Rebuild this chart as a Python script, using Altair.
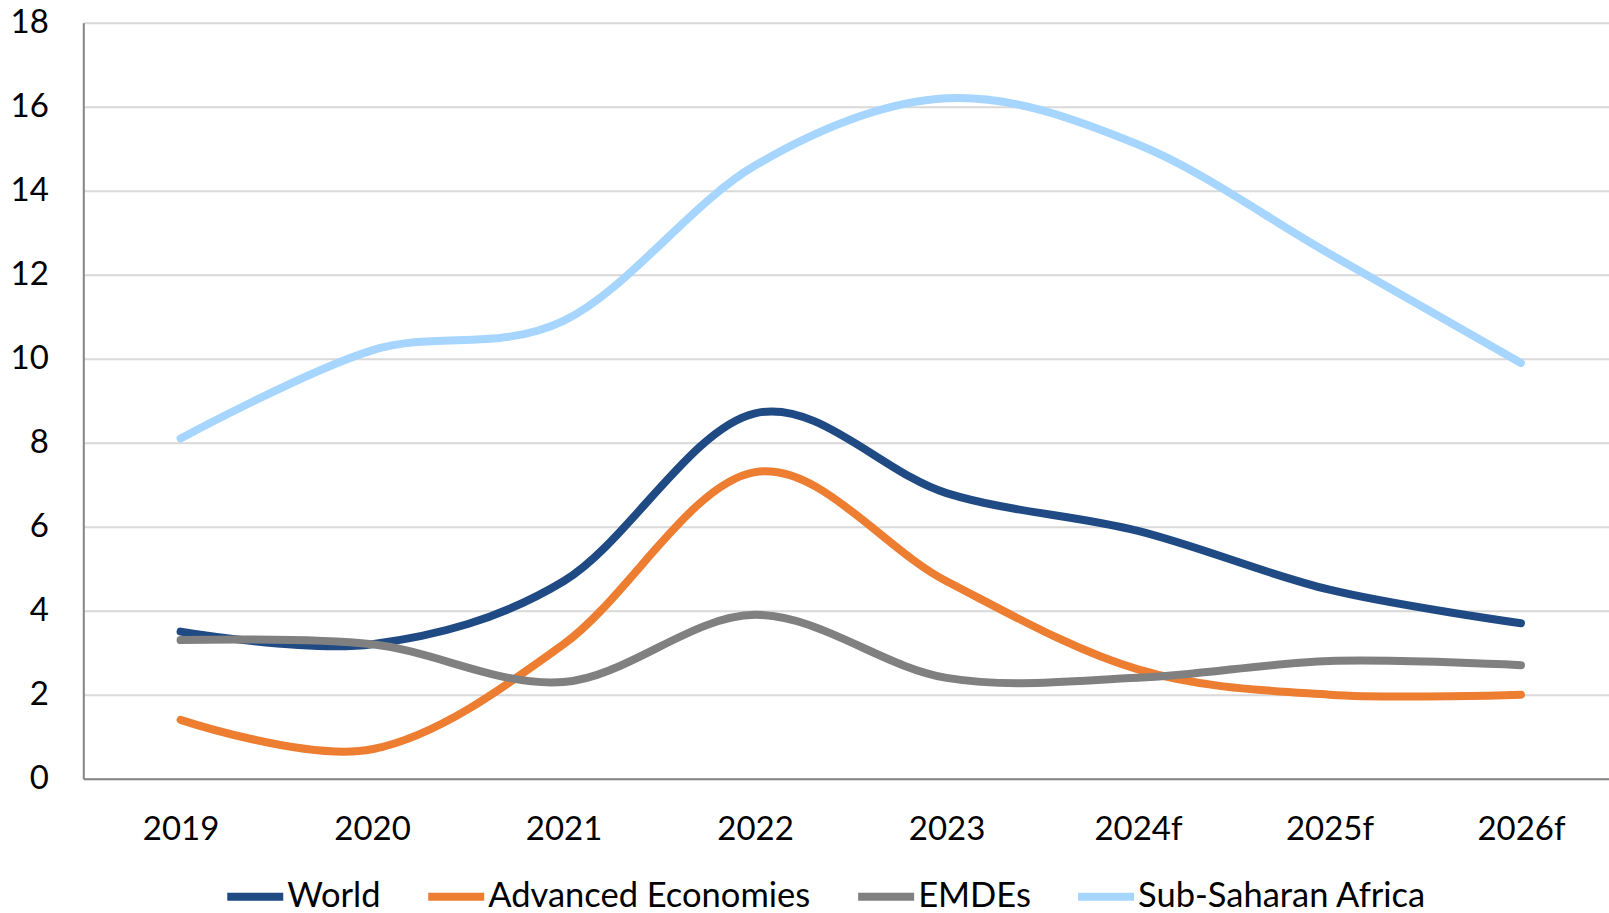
import altair as alt
import pandas as pd

# Inflation, percent
years = ["2019", "2020", "2021", "2022", "2023", "2024f", "2025f", "2026f"]
world = [3.5, 3.2, 4.7, 8.7, 6.8, 5.9, 4.5, 3.7]
advanced = [1.4, 0.7, 3.2, 7.3, 4.7, 2.6, 2.0, 2.0]
emdes = [3.3, 3.2, 2.3, 3.9, 2.4, 2.4, 2.8, 2.7]
ssa = [8.1, 10.2, 10.9, 14.6, 16.2, 15.1, 12.5, 9.9]

series_names = ["World", "Advanced Economies", "EMDEs", "Sub-Saharan Africa"]
series_values = [world, advanced, emdes, ssa]
series_colors = ["#1F4A84", "#ED7D31", "#808080", "#A6D6FF"]

rows = []
for name, vals in zip(series_names, series_values):
    for i, (yr, v) in enumerate(zip(years, vals)):
        rows.append({"year": yr, "value": v, "series": name, "order": i})
df = pd.DataFrame(rows)

FONT = "Lato"

chart = (
    alt.Chart(df)
    .mark_line(strokeWidth=8, strokeCap="round", strokeJoin="round", interpolate="cardinal")
    .encode(
        x=alt.X(
            "year:O",
            sort=years,
            scale=alt.Scale(type="point", padding=0.484, align=0.525),
            axis=alt.Axis(
                title=None,
                labelAngle=0,
                ticks=False,
                grid=False,
                domainColor="#868686",
                domainWidth=2,
                labelFontSize=33,
                labelFont=FONT,
                labelColor="#000000",
                labelPadding=51,
                labelBaseline="middle",
            ),
        ),
        y=alt.Y(
            "value:Q",
            scale=alt.Scale(domain=[0, 18], nice=False),
            axis=alt.Axis(
                title=None,
                values=list(range(0, 19, 2)),
                ticks=False,
                grid=True,
                gridColor="#D9D9D9",
                gridWidth=2,
                domainColor="#868686",
                domainWidth=2,
                labelFontSize=33,
                labelFont=FONT,
                labelColor="#000000",
                labelPadding=35,
                labelBaseline="middle",
            ),
        ),
        color=alt.Color(
            "series:N",
            scale=alt.Scale(domain=series_names, range=series_colors),
            legend=alt.Legend(
                title=None,
                orient="none",
                direction="horizontal",
                legendX=140,
                legendY=842,
                symbolType="stroke",
                symbolSize=3136,
                symbolStrokeWidth=8,
                labelFontSize=34.5,
                labelFont=FONT,
                labelColor="#000000",
                labelLimit=0,
                labelOffset=0,
                columnPadding=31,
            ),
        ),
        order="order:Q",
    )
    .properties(
        width=1526,
        height=756,
        autosize=alt.AutoSizeParams(type="none"),
        padding={"left": 83.3, "top": 22.7, "right": 0, "bottom": 134},
    )
    .configure_view(stroke=None)
    .configure(background="#FFFFFF")
)

chart.save("out.html", embed_options={"renderer": "svg", "actions": False})
